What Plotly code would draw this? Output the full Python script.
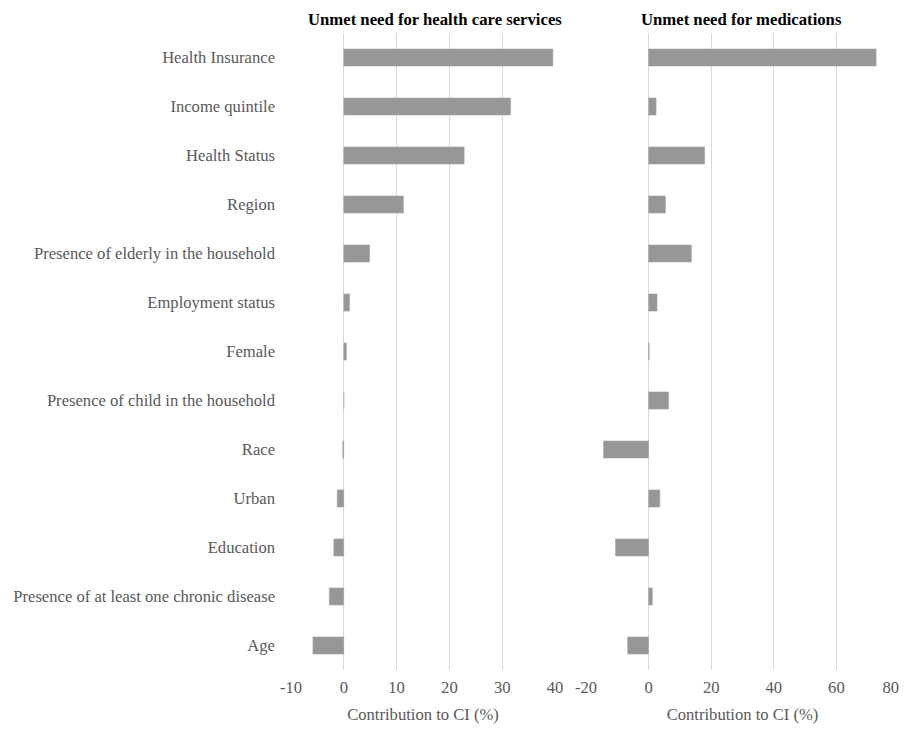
import plotly.graph_objects as go

categories = ["Health Insurance", "Income quintile", "Health Status", "Region",
              "Presence of elderly in the household", "Employment status", "Female",
              "Presence of child in the household", "Race", "Urban", "Education",
              "Presence of at least one chronic disease", "Age"]
services = [39.6, 31.6, 22.8, 11.3, 4.9, 1.1, 0.5, 0.0, -0.2, -1.25, -1.9, -2.75, -5.85]
medications = [72.7, 2.4, 17.9, 5.4, 13.7, 2.7, 0.2, 6.4, -14.4, 3.6, -10.6, 1.2, -6.7]
titles = ["Unmet need for health care services", "Unmet need for medications"]
xlabel = "Contribution to CI (%)"
ticks1 = [-10, 0, 10, 20, 30, 40]
ticks2 = [-20, 0, 20, 40, 60, 80]

FONT = "Liberation Serif, Times New Roman, serif"
BAR = "#979797"
GRID = "#d9d9d9"
TXT = "#595959"
FS = 16.6

fig = go.Figure()
fig.add_trace(go.Bar(y=categories, x=services, orientation="h", width=0.35,
                     marker=dict(color=BAR, line=dict(color="#a8a8a8", width=0.5)),
                     xaxis="x", yaxis="y", showlegend=False))
fig.add_trace(go.Bar(y=categories, x=medications, orientation="h", width=0.35,
                     marker=dict(color=BAR, line=dict(color="#a8a8a8", width=0.5)),
                     xaxis="x2", yaxis="y2", showlegend=False))

OFF = 8  # default page body margin
W, H = 910 - OFF, 732 - 2 * OFF
L, R, T = 291 - OFF, 11, 33 - OFF
B = H - (670 - OFF)
pw = W - L - R
ph = H - T - B
d1 = [0, (555 - OFF - L) / pw]
d2 = [(586 - OFF - L) / pw, 1]

def px_x(x):
    return (x - OFF - L) / pw

def px_y(y):
    return (H - (y - OFF) - B) / ph

# last label padded with no-break spaces so it stays inside the visible page edge
text2 = [str(v) for v in ticks2]
text2[-1] = text2[-1] + "\u00a0\u00a0\u00a0\u00a0"

common_x = dict(showgrid=True, gridcolor=GRID, gridwidth=1, zeroline=True,
                zerolinecolor=GRID, zerolinewidth=1, showline=False, ticks="",
                ticklabelstandoff=5, ticklabeloverflow="allow",
                tickfont=dict(family=FONT, size=FS, color=TXT),
                title=dict(text=xlabel, font=dict(family=FONT, size=FS, color=TXT), standoff=16))

fig.update_layout(
    width=W, height=H,
    margin=dict(l=L, r=R, t=T, b=B, autoexpand=False),
    paper_bgcolor="white", plot_bgcolor="white",
    xaxis=dict(domain=d1, range=[-10, 40], tickvals=ticks1,
               ticktext=[str(v) for v in ticks1], **common_x),
    xaxis2=dict(domain=d2, range=[-20, 80], tickvals=ticks2,
                ticktext=text2, **common_x),
    yaxis=dict(anchor="x", autorange="reversed", categoryorder="array", categoryarray=categories,
               showgrid=False, ticks="", ticklabelstandoff=15,
               tickfont=dict(family=FONT, size=FS, color=TXT)),
    yaxis2=dict(anchor="x2", autorange="reversed", categoryorder="array", categoryarray=categories,
                showgrid=False, showticklabels=False, ticks=""),
    annotations=[
        dict(text="<b>" + titles[0] + "</b>", x=px_x(435), y=px_y(19), xref="paper", yref="paper",
             xanchor="center", yanchor="middle", showarrow=False,
             font=dict(family=FONT, size=16.7, color="black")),
        dict(text="<b>" + titles[1] + "</b>", x=px_x(741.5), y=px_y(19), xref="paper", yref="paper",
             xanchor="center", yanchor="middle", showarrow=False,
             font=dict(family=FONT, size=16.7, color="black")),
    ],
)

fig.write_html("out.html")
